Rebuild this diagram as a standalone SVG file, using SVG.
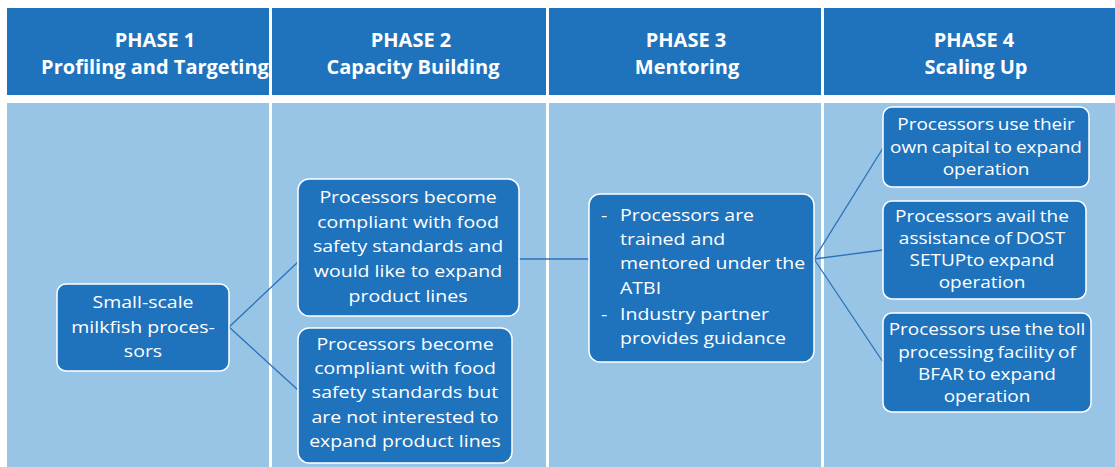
<svg xmlns="http://www.w3.org/2000/svg" width="1115" height="467" viewBox="0 0 1115 467">
<style>
.hdr{fill:#1F73BC}
.body{fill:#98C4E6}
.ht{font-family:"Open Sans","Liberation Sans",sans-serif;font-weight:bold;font-size:20px;fill:#FFFFFF;text-anchor:middle}
.node{fill:#1F73BC;stroke:#FFFFFF;stroke-width:1.5}
.t{font-family:"Open Sans","Liberation Sans",sans-serif;font-size:19.5px;fill:#FFFFFF;text-anchor:middle}
.t4{font-family:"Open Sans","Liberation Sans",sans-serif;font-size:19px;fill:#FFFFFF;text-anchor:middle;word-spacing:-1px}
.tl{font-family:"Open Sans","Liberation Sans",sans-serif;font-size:19.5px;fill:#FFFFFF}
.c{stroke:#2A72B8;stroke-width:1.3;fill:none}
</style>
<rect width="1115" height="467" fill="#FFFFFF"/>
<g id="columns">
<rect class="hdr" x="7" y="8" width="262" height="87"/>
<rect class="hdr" x="272" y="8" width="274" height="87"/>
<rect class="hdr" x="549" y="8" width="272" height="87"/>
<rect class="hdr" x="824" y="8" width="291" height="87"/>
<rect class="body" x="7" y="103" width="262" height="364"/>
<rect class="body" x="272" y="103" width="274" height="364"/>
<rect class="body" x="549" y="103" width="272" height="364"/>
<rect class="body" x="824" y="103" width="291" height="364"/>
<text class="ht" transform="translate(155 47) scale(1 .96)">PHASE 1</text>
<text class="ht" transform="translate(155 74) scale(1 .96)">Profiling and Targeting</text>
<text class="ht" transform="translate(411 47) scale(1 .96)">PHASE 2</text>
<text class="ht" transform="translate(413 74) scale(1 .96)">Capacity Building</text>
<text class="ht" transform="translate(686 47) scale(1 .96)">PHASE 3</text>
<text class="ht" transform="translate(687 74) scale(1 .96)">Mentoring</text>
<text class="ht" transform="translate(974 47) scale(1 .96)">PHASE 4</text>
<text class="ht" transform="translate(976 74) scale(1 .96)">Scaling Up</text>
</g>
<g id="connectors">
<line class="c" x1="229" y1="327" x2="298" y2="262"/>
<line class="c" x1="229" y1="327" x2="298" y2="390"/>
<line class="c" x1="519" y1="259" x2="589" y2="259"/>
<line class="c" x1="814" y1="259" x2="883" y2="148"/>
<line class="c" x1="814" y1="259" x2="883" y2="250"/>
<line class="c" x1="814" y1="259" x2="883" y2="362"/>
</g>
<g id="node1">
<rect class="node" x="57" y="284" width="172" height="87" rx="9"/>
<text class="t" transform="translate(143 308) scale(1 .88)">Small-scale</text>
<text class="t" transform="translate(143 333) scale(1 .88)">milkfish proces-</text>
<text class="t" transform="translate(143 357) scale(1 .88)">sors</text>
</g>
<g id="node2a">
<rect class="node" x="298" y="179" width="221" height="137" rx="11"/>
<text class="t" transform="translate(408 203) scale(1 .88)">Processors become</text>
<text class="t" transform="translate(408 228) scale(1 .88)">compliant with food</text>
<text class="t" transform="translate(408 252) scale(1 .88)">safety standards and</text>
<text class="t" transform="translate(408 277) scale(1 .88)">would like to expand</text>
<text class="t" transform="translate(408 302) scale(1 .88)">product lines</text>
</g>
<g id="node2b">
<rect class="node" x="298" y="328" width="214" height="135" rx="11"/>
<text class="t" transform="translate(405 350) scale(1 .88)">Processors become</text>
<text class="t" transform="translate(405 374) scale(1 .88)">compliant with food</text>
<text class="t" transform="translate(405 398) scale(1 .88)">safety standards but</text>
<text class="t" transform="translate(405 423) scale(1 .88)">are not interested to</text>
<text class="t" transform="translate(405 447) scale(1 .88)">expand product lines</text>
</g>
<g id="node3">
<rect class="node" x="589" y="194" width="225" height="168" rx="11"/>
<text class="tl" transform="translate(601 221) scale(1 .88)">-</text>
<text class="tl" transform="translate(620 221) scale(1 .88)">Processors are</text>
<text class="tl" transform="translate(620 245) scale(1 .88)">trained and</text>
<text class="tl" transform="translate(620 269) scale(1 .88)">mentored under the</text>
<text class="tl" transform="translate(620 294) scale(1 .88)">ATBI</text>
<text class="tl" transform="translate(601 320) scale(1 .88)">-</text>
<text class="tl" transform="translate(620 320) scale(1 .88)">Industry partner</text>
<text class="tl" transform="translate(620 344) scale(1 .88)">provides guidance</text>
</g>
<g id="node4a">
<rect class="node" x="883" y="107" width="206" height="80" rx="9"/>
<text class="t4" transform="translate(986 130) scale(1 .84)">Processors use their</text>
<text class="t4" transform="translate(986 152.5) scale(1 .84)">own capital to expand</text>
<text class="t4" transform="translate(986 175) scale(1 .84)">operation</text>
</g>
<g id="node4b">
<rect class="node" x="883" y="201" width="203" height="98" rx="9"/>
<text class="t4" transform="translate(982 222) scale(1 .84)">Processors avail the</text>
<text class="t4" transform="translate(982 244) scale(1 .84)">assistance of DOST</text>
<text class="t4" transform="translate(982 266) scale(1 .84)">SETUPto expand</text>
<text class="t4" transform="translate(982 288) scale(1 .84)">operation</text>
</g>
<g id="node4c">
<rect class="node" x="883" y="313" width="208" height="99" rx="9"/>
<text class="t4" transform="translate(987 335) scale(1 .84)">Processors use the toll</text>
<text class="t4" transform="translate(987 357.5) scale(1 .84)">processing facility of</text>
<text class="t4" transform="translate(987 380) scale(1 .84)">BFAR to expand</text>
<text class="t4" transform="translate(987 402) scale(1 .84)">operation</text>
</g>
</svg>
